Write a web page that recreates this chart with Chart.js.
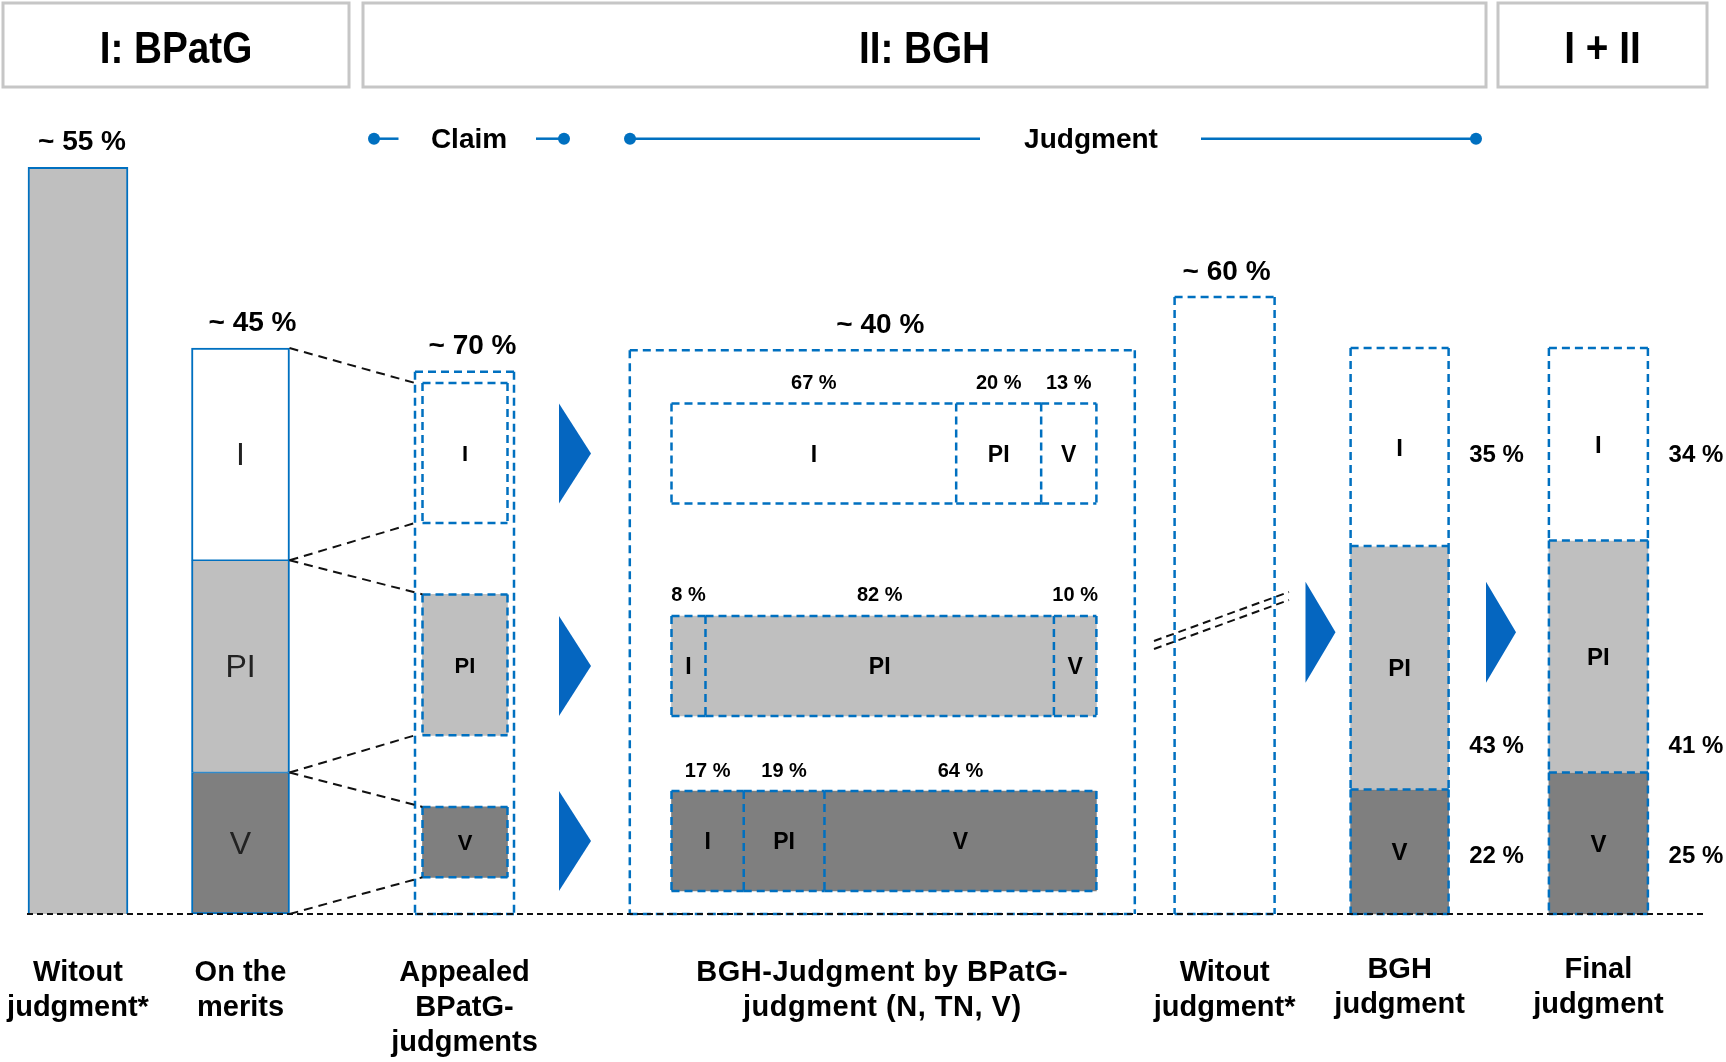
<!DOCTYPE html>
<html>
<head>
<meta charset="utf-8">
<script src="https://cdn.jsdelivr.net/npm/chart.js@4.4.1/dist/chart.umd.min.js"></script>
<style>
  html, body { margin: 0; padding: 0; background: #fff; }
  canvas { display: block; }
</style>
</head>
<body>
<canvas id="chart" width="1726" height="1062"></canvas>
<script>
// data
const stageTitles = ['I: BPatG', 'II: BGH', 'I + II'];
const phaseLabels = ['Claim', 'Judgment'];
const outcomes = ['I', 'PI', 'V'];
const columnLabels = [
  'Witout\njudgment*',
  'On the\nmerits',
  'Appealed\nBPatG-\njudgments',
  'BGH-Judgment by BPatG-\njudgment (N, TN, V)',
  'Witout\njudgment*',
  'BGH\njudgment',
  'Final\njudgment'
];
const totalShares = [55, 45, 70, 40, 60];   // ~ % above the first five columns
const meritsSplit = [37.5, 37.5, 25];       // no numbers printed
const bghAfterI = [67, 20, 13];
const bghAfterPI = [8, 82, 10];
const bghAfterV = [17, 19, 64];
const bghJudgment = [35, 43, 22];
const finalJudgment = [34, 41, 25];

// layout (pixels / height units, 100 units = one full column)
const W = 1726, H = 1062;
const BASE = 914;
const UNIT = 5.66;
const ROW_L = 671.5, ROW_R = 1096.4, ROW_H = 100;
const cols = {
  without1: { x: 78, w: 100, h: 131.9 },
  merits: { x: 240.5, w: 98, h: 100 },
  appealed: { x: 464.5, w: 99, h: 95.8 },
  bghBy: { x: 882.3, w: 505, h: 99.6 },
  without2: { x: 1224.6, w: 100, h: 109 },
  bgh: { x: 1399.6, w: 98, h: 100 },
  final: { x: 1598.4, w: 99, h: 100 }
};
const colOrder = ['without1', 'merits', 'appealed', 'bghBy', 'without2', 'bgh', 'final'];
const totalDx = [4, 12, 8, -2, 2];
const appealedInner = { x: 465, w: 85, boxes: [[69.08, 93.82], [31.57, 56.47], [6.48, 18.92]] };
const rowCenters = [81.36, 43.82, 12.9];
const pctRowsY = [453, 744, 854];

const BLUE = '#0070c0';
const ARROW = '#0566c0';
const LIGHT = '#bfbfbf';
const DARK = '#7f7f7f';
const fills = ['#ffffff', LIGHT, DARK];
const FONT = '"Liberation Sans", Arial, Helvetica, sans-serif';
const NONE = 'rgba(255,255,255,0)';
const TEXT_DY = 2;   // canvas 'middle' sits a little high for these glyphs

// scale limits so that the hidden axes line up with the layout
const yMin = -(H - BASE) / UNIT, yMax = BASE / UNIT;
const rowSpan = ROW_R - ROW_L;
const xRowMin = -ROW_L / rowSpan * 100;
const xRowMax = xRowMin + W / rowSpan * 100;

function box(x, w, lo, hi, fill, group, extra) {
  return Object.assign({
    data: [{ x: x, y: [lo, hi] }],
    barThickness: w,
    backgroundColor: fill,
    borderWidth: 0,
    group: group,
    seg: 0,
    edges: 'ltrb'
  }, extra || {});
}

function columnSegments(col, shares, group, solid) {
  const total = shares.reduce((a, b) => a + b, 0);
  let top = col.h;
  return shares.map((s, i) => {
    const hi = top;
    const lo = top - s / total * col.h;
    top = lo;
    const last = i === shares.length - 1;
    const ds = box(col.x, col.w, lo, hi, fills[i], group, { seg: i, value: s, edges: last ? 'ltrb' : 'ltr' });
    if (solid) {
      ds.borderColor = BLUE;
      ds.borderSkipped = false;
      ds.borderWidth = { top: i === 0 ? 2 : 1, bottom: last ? 2 : 1, left: 2, right: 2 };
    } else {
      ds.dashed = true;
    }
    return ds;
  });
}

function rowSegments(r, shares) {
  let acc = 0;
  return shares.map((s, i) => {
    const lo = acc;
    acc += s;
    return {
      indexAxis: 'y',
      xAxisID: 'xRow',
      yAxisID: 'y',
      data: [{ y: rowCenters[r], x: [lo, acc] }],
      barThickness: ROW_H,
      backgroundColor: fills[r],
      borderWidth: 0,
      dashed: true,
      group: 'row' + r,
      seg: i,
      value: s,
      edges: i === shares.length - 1 ? 'tblr' : 'tbl'
    };
  });
}

const datasets = [];
datasets.push(box(cols.without1.x, cols.without1.w, 0, cols.without1.h, LIGHT, 'without1', {
  borderColor: BLUE, borderSkipped: false, borderWidth: { top: 2, left: 2, right: 2, bottom: 0 }
}));
datasets.push(...columnSegments(cols.merits, meritsSplit, 'merits', true));
datasets.push(box(cols.appealed.x, cols.appealed.w, 0, cols.appealed.h, NONE, 'appealed', { dashed: true }));
appealedInner.boxes.forEach((b, i) => {
  datasets.push(box(appealedInner.x, appealedInner.w, b[0], b[1], fills[i], 'appealedBox', { dashed: true, seg: i }));
});
datasets.push(box(cols.bghBy.x, cols.bghBy.w, 0, cols.bghBy.h, NONE, 'bghBy', { dashed: true }));
datasets.push(...rowSegments(0, bghAfterI));
datasets.push(...rowSegments(1, bghAfterPI));
datasets.push(...rowSegments(2, bghAfterV));
datasets.push(box(cols.without2.x, cols.without2.w, 0, cols.without2.h, NONE, 'without2', { dashed: true }));
datasets.push(...columnSegments(cols.bgh, bghJudgment, 'bgh', false));
datasets.push(...columnSegments(cols.final, finalJudgment, 'final', false));

// helpers for the plugin
function bounds(el) {
  const p = el.getProps(['x', 'y', 'base', 'width', 'height', 'horizontal'], true);
  if (p.horizontal) {
    return { l: Math.min(p.x, p.base), r: Math.max(p.x, p.base), t: p.y - p.height / 2, b: p.y + p.height / 2 };
  }
  return { l: p.x - p.width / 2, r: p.x + p.width / 2, t: Math.min(p.y, p.base), b: Math.max(p.y, p.base) };
}

function line(ctx, x1, y1, x2, y2) {
  ctx.beginPath();
  ctx.moveTo(x1, y1);
  ctx.lineTo(x2, y2);
  ctx.stroke();
}

function dashedRect(ctx, b, edges) {
  ctx.save();
  ctx.strokeStyle = BLUE;
  ctx.lineWidth = 2.5;
  ctx.setLineDash([8, 5]);
  if (edges.includes('t')) line(ctx, b.l, b.t, b.r, b.t);
  if (edges.includes('l')) line(ctx, b.l, b.t, b.l, b.b);
  if (edges.includes('r')) line(ctx, b.r, b.t, b.r, b.b);
  if (edges.includes('b')) line(ctx, b.l, b.b, b.r, b.b);
  ctx.restore();
}

function txt(ctx, s, x, y, size, bold, opts) {
  opts = opts || {};
  ctx.save();
  ctx.font = (bold ? 'bold ' : '') + size + 'px ' + FONT;
  ctx.fillStyle = opts.color || '#000';
  ctx.textAlign = 'center';
  ctx.textBaseline = 'middle';
  if (opts.spacing) ctx.letterSpacing = opts.spacing;
  ctx.translate(x, y + TEXT_DY);
  if (opts.sx) ctx.scale(opts.sx, 1);
  ctx.fillText(s, 0, 0);
  ctx.restore();
}

function arrow(ctx, x, top, bottom, w) {
  ctx.save();
  ctx.fillStyle = ARROW;
  ctx.beginPath();
  ctx.moveTo(x, top);
  ctx.lineTo(x + w, (top + bottom) / 2);
  ctx.lineTo(x, bottom);
  ctx.closePath();
  ctx.fill();
  ctx.restore();
}

const diagram = {
  id: 'diagram',
  beforeDatasetsDraw(chart) {
    const ctx = chart.ctx;
    // stage headers
    const heads = [[3, 349], [363, 1486], [1498, 1707]];
    ctx.save();
    ctx.strokeStyle = '#c6c6c6';
    ctx.lineWidth = 3;
    heads.forEach((h, i) => {
      ctx.strokeRect(h[0], 3, h[1] - h[0], 84);
      txt(ctx, stageTitles[i], (h[0] + h[1]) / 2, 49, 45, true, { sx: 0.86 });
    });
    ctx.restore();

    // claim / judgment timeline
    const ty = 138.7;
    ctx.save();
    ctx.strokeStyle = BLUE;
    ctx.fillStyle = BLUE;
    ctx.lineWidth = 2.5;
    [[374, 398.5], [536, 564], [630, 980], [1201, 1476]].forEach(s => line(ctx, s[0], ty, s[1], ty));
    [374, 564, 630, 1476].forEach(x => {
      ctx.beginPath();
      ctx.arc(x, ty, 6, 0, Math.PI * 2);
      ctx.fill();
    });
    ctx.restore();
    txt(ctx, phaseLabels[0], 469, ty, 28, true);
    txt(ctx, phaseLabels[1], 1091, ty, 28, true);
  },
  afterDatasetsDraw(chart) {
    const ctx = chart.ctx;
    const found = {};
    chart.data.datasets.forEach((ds, i) => {
      const b = bounds(chart.getDatasetMeta(i).data[0]);
      (found[ds.group] = found[ds.group] || [])[ds.seg] = b;
      if (ds.dashed) dashedRect(ctx, b, ds.edges);
    });

    // labels inside the boxes
    chart.data.datasets.forEach(ds => {
      const b = found[ds.group][ds.seg];
      const cx = (b.l + b.r) / 2, cy = (b.t + b.b) / 2;
      if (ds.group === 'merits') {
        txt(ctx, outcomes[ds.seg], cx, cy, 32, false, { color: '#222' });
      } else if (ds.group === 'appealedBox') {
        txt(ctx, outcomes[ds.seg], cx, cy, 22, true);
      } else if (ds.group.startsWith('row')) {
        txt(ctx, outcomes[ds.seg], cx, cy, 23, true);
        txt(ctx, ds.value + ' %', cx, b.t - 22, 20, true);
      } else if (ds.group === 'bgh' || ds.group === 'final') {
        txt(ctx, outcomes[ds.seg], cx, cy, 24, true);
        txt(ctx, ds.value + ' %', b.r + 48, pctRowsY[ds.seg], 24, true);
      }
    });

    // ~ totals above the first columns
    colOrder.slice(0, 5).forEach((key, i) => {
      const b = found[key][0];
      txt(ctx, '~ ' + totalShares[i] + ' %', (b.l + b.r) / 2 + totalDx[i], b.t - 27, 28, true);
    });

    // dashed connectors from "On the merits" to the appealed boxes
    const m = found.merits, a = found.appealed[0], p = found.appealedBox;
    ctx.save();
    ctx.strokeStyle = '#111';
    ctx.lineWidth = 2;
    ctx.setLineDash([9, 6]);
    line(ctx, m[0].r, m[0].t, a.l, p[0].t);
    line(ctx, m[0].r, m[0].b, a.l, p[0].b);
    line(ctx, m[1].r, m[1].t, p[1].l, p[1].t);
    line(ctx, m[1].r, m[1].b, a.l, p[1].b);
    line(ctx, m[2].r, m[2].t, p[2].l, p[2].t);
    line(ctx, m[2].r, m[2].b, p[2].l, p[2].b);
    // break mark across the second "without judgment" box
    ctx.setLineDash([8, 5]);
    line(ctx, 1154, 641, 1289, 592);
    line(ctx, 1154, 649, 1289, 600);
    // baseline
    ctx.lineWidth = 2;
    ctx.setLineDash([6, 4]);
    line(ctx, 27, BASE, 1704, BASE);
    ctx.restore();

    // arrows
    [0, 1, 2].forEach(r => {
      const b = found['row' + r][0];
      arrow(ctx, 559, b.t, b.b, 32);
    });
    const ay = chart.scales.y.getPixelForValue(49.8);
    arrow(ctx, 1305.5, ay - 50.5, ay + 50.5, 30);
    arrow(ctx, 1486, ay - 50.5, ay + 50.5, 30);

    // column captions
    colOrder.forEach((key, i) => {
      const b = found[key][0];
      const cx = (b.l + b.r) / 2;
      const y0 = (key === 'bgh' || key === 'final') ? 968 : 971;
      columnLabels[i].split('\n').forEach((s, k) => {
        txt(ctx, s, cx, y0 + k * 35, 29, true, key === 'bghBy' ? { spacing: '0.5px' } : null);
      });
    });
  }
};

new Chart(document.getElementById('chart'), {
  type: 'bar',
  data: { datasets: datasets },
  options: {
    responsive: false,
    devicePixelRatio: 1,
    animation: false,
    events: [],
    layout: { padding: 0 },
    datasets: { bar: { grouped: false } },
    plugins: { legend: { display: false }, tooltip: { enabled: false } },
    scales: {
      x: { type: 'linear', axis: 'x', min: 0, max: W, offset: false, display: false },
      xRow: { type: 'linear', axis: 'x', min: xRowMin, max: xRowMax, offset: false, display: false },
      y: { type: 'linear', axis: 'y', min: yMin, max: yMax, offset: false, display: false }
    }
  },
  plugins: [diagram]
});
</script>
</body>
</html>
